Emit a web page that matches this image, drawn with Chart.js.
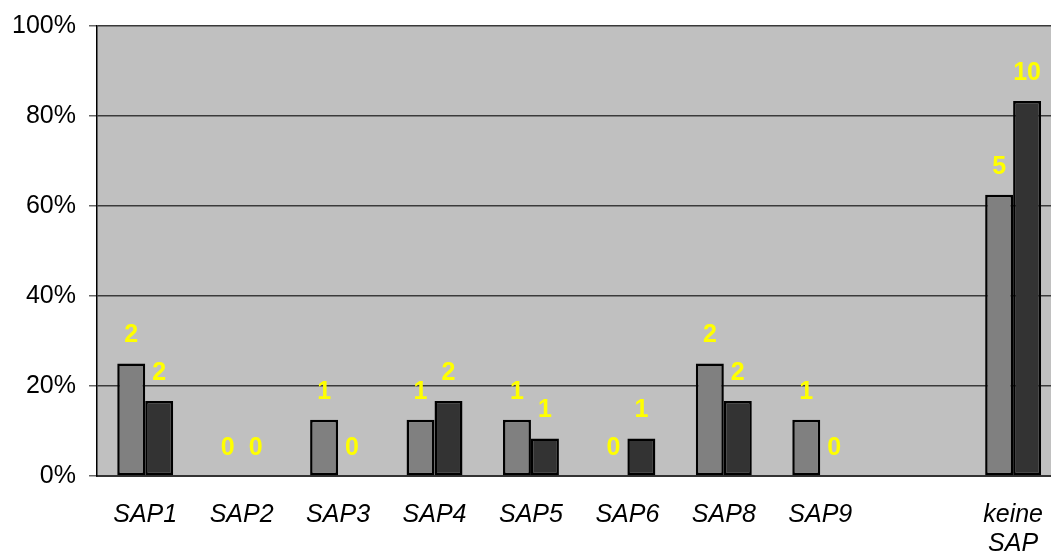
<!DOCTYPE html>
<html>
<head>
<meta charset="utf-8">
<script src="https://cdn.jsdelivr.net/npm/chart.js@4.4.1/dist/chart.umd.min.js"></script>
<style>
  html, body { margin: 0; padding: 0; background: #fff; overflow: hidden; }
</style>
</head>
<body>
<canvas id="sapChart" width="1068" height="553"></canvas>
<script>
// categories (the 9th slot is left empty as a spacer)
var categories = ['SAP1', 'SAP2', 'SAP3', 'SAP4', 'SAP5', 'SAP6', 'SAP8', 'SAP9', '', ['keine', 'SAP']];
// answer counts per group, and group sizes
var countsA = [2, 0, 1, 1, 1, 0, 2, 1, null, 5];
var countsB = [2, 0, 0, 2, 1, 1, 2, 0, null, 10];
var totalA = 8;
var totalB = 12;
var yTicks = [0, 20, 40, 60, 80, 100];

function toPercent(counts, total) {
    return counts.map(function(c) { return c === null ? null : c / total * 100; });
}

var plotBg = {
    id: 'plotBg',
    beforeDraw: function(chart) {
        var a = chart.chartArea, ctx = chart.ctx;
        ctx.save();
        ctx.fillStyle = '#c0c0c0';
        ctx.fillRect(a.left, a.top, a.right - a.left, a.bottom - a.top);
        ctx.restore();
    }
};

// yellow count labels above each bar
var countLabels = {
    id: 'countLabels',
    afterDatasetsDraw: function(chart) {
        var ctx = chart.ctx;
        ctx.save();
        ctx.font = 'bold 25px Arial, "Liberation Sans", sans-serif';
        ctx.fillStyle = '#ffff00';
        ctx.textAlign = 'center';
        ctx.textBaseline = 'middle';
        chart.data.datasets.forEach(function(ds, i) {
            chart.getDatasetMeta(i).data.forEach(function(bar, j) {
                var c = ds.counts[j];
                if (c === null) return;
                ctx.fillText(String(c), bar.x, bar.y - 28);
            });
        });
        ctx.restore();
    }
};

var ctx = document.getElementById('sapChart').getContext('2d');
var chart = new Chart(ctx, {
    type: 'bar',
    data: {
        labels: categories,
        datasets: [{
            data: toPercent(countsA, totalA),
            counts: countsA,
            backgroundColor: '#808080',
            borderColor: '#000',
            borderWidth: 2.5,
            borderSkipped: false
        }, {
            data: toPercent(countsB, totalB),
            counts: countsB,
            backgroundColor: '#333333',
            borderColor: '#000',
            borderWidth: 2.5,
            borderSkipped: false
        }]
    },
    options: {
        responsive: false,
        animation: false,
        layout: { padding: { top: 26, left: 0, right: 0, bottom: 0 } },
        datasets: { bar: { categoryPercentage: 0.58, barPercentage: 1.0 } },
        plugins: {
            legend: { display: false },
            tooltip: { enabled: false }
        },
        scales: {
            x: {
                grid: { display: false, drawTicks: false },
                border: { color: '#333', width: 2 },
                ticks: {
                    color: '#000',
                    padding: 25,
                    maxRotation: 0,
                    autoSkip: false,
                    font: { family: 'Arial, "Liberation Sans", sans-serif', size: 25, style: 'italic', lineHeight: 1.15 }
                },
                afterFit: function(scale) { scale.height = 77; }
            },
            y: {
                min: 0,
                max: 100,
                afterBuildTicks: function(scale) {
                    scale.ticks = yTicks.map(function(v) { return { value: v }; });
                },
                grid: { color: '#3a3a3a', lineWidth: 1.5, tickLength: 8, tickColor: '#666' },
                border: { color: '#000', width: 1.5 },
                ticks: {
                    color: '#000',
                    padding: 13,
                    font: { family: 'Arial, "Liberation Sans", sans-serif', size: 25, lineHeight: 1 },
                    callback: function(v) { return v + '%'; }
                },
                afterFit: function(scale) { scale.width = 97; }
            }
        }
    },
    plugins: [plotBg, countLabels]
});
</script>
</body>
</html>
